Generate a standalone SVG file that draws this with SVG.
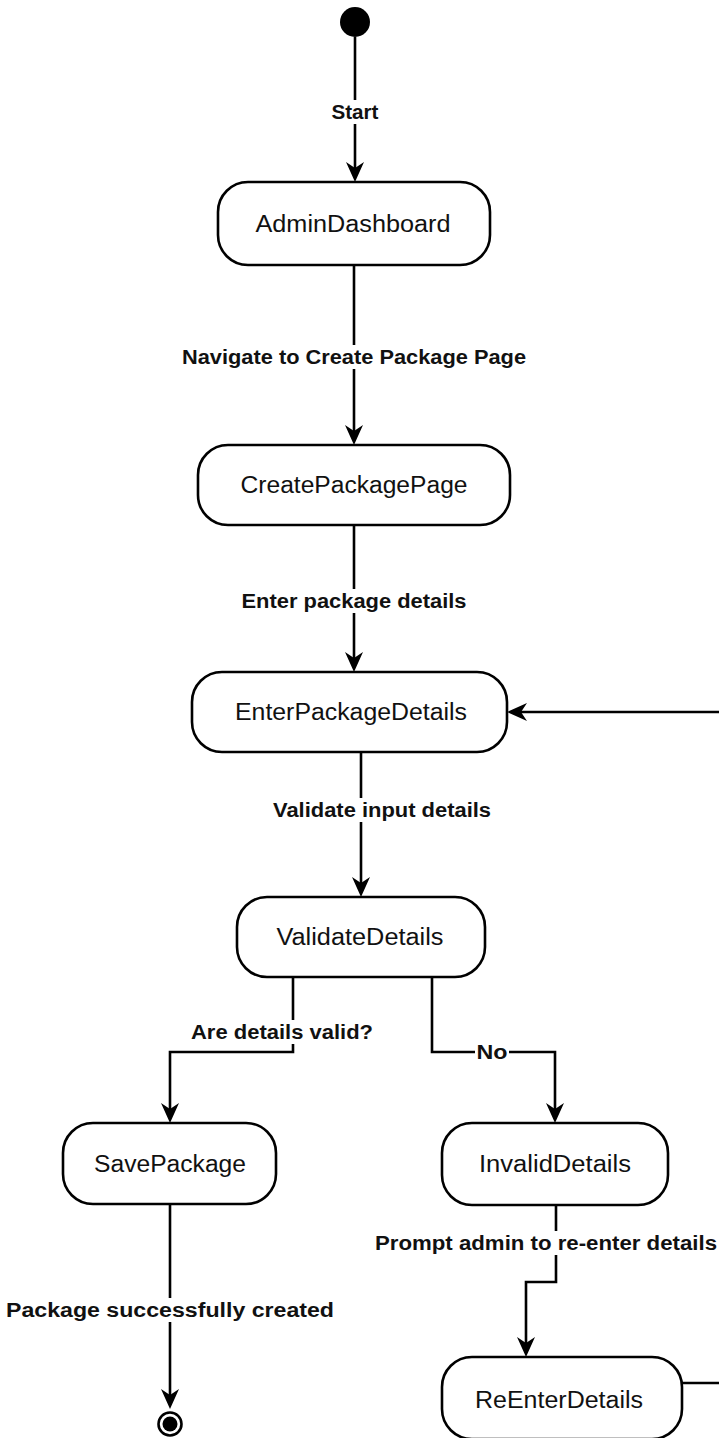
<svg xmlns="http://www.w3.org/2000/svg" width="719" height="1438" viewBox="0 0 719 1438">
  <style>
    .state { fill: #ffffff; stroke: #000000; stroke-width: 2.6; }
    .name { font-family: "Liberation Sans", Arial, sans-serif; font-size: 23px; fill: #111111; text-anchor: middle; }
    .edge { fill: none; stroke: #000000; stroke-width: 2.6; marker-end: url(#arrow); }
    .lbl-bg { fill: #ffffff; }
    .lbl { font-family: "Liberation Sans", Arial, sans-serif; font-size: 20px; font-weight: bold; fill: #111111; text-anchor: middle; }
  </style>
  <defs>
    <marker id="arrow" markerUnits="userSpaceOnUse" viewBox="0 0 20 20" markerWidth="20" markerHeight="20" refX="8" refY="10" orient="auto">
      <path d="M0,1 L20,10 L0,19 L6,10 Z" fill="#000000"/>
    </marker>
  </defs>

  <rect x="0" y="0" width="719" height="1438" fill="#ffffff"/>

  <!-- transitions -->
  <g id="connectors">
    <path class="edge" d="M355,37 V170"/>
    <path class="edge" d="M354,265 V433"/>
    <path class="edge" d="M354,525 V660"/>
    <path class="edge" d="M361,752 V885"/>
    <path class="edge" d="M293,977 V1052 H170 V1111"/>
    <path class="edge" d="M432,977 V1052 H555 V1111"/>
    <path class="edge" d="M556,1205 V1282 H526 V1345"/>
    <path class="edge" d="M682,1383 H730 V712 H519"/>
    <path class="edge" d="M170,1204 V1397"/>

    <!-- transition labels -->
    <rect class="lbl-bg" x="330" y="100" width="51" height="24"/>
    <text class="lbl" x="355" y="119" textLength="47" lengthAdjust="spacingAndGlyphs">Start</text>

    <rect class="lbl-bg" x="180" y="345" width="348" height="24"/>
    <text class="lbl" x="354" y="364" textLength="344" lengthAdjust="spacingAndGlyphs">Navigate to Create Package Page</text>

    <rect class="lbl-bg" x="240" y="589" width="229" height="24"/>
    <text class="lbl" x="354" y="608" textLength="225" lengthAdjust="spacingAndGlyphs">Enter package details</text>

    <rect class="lbl-bg" x="271" y="798" width="222" height="24"/>
    <text class="lbl" x="382" y="817" textLength="218" lengthAdjust="spacingAndGlyphs">Validate input details</text>

    <rect class="lbl-bg" x="189" y="1020" width="186" height="24"/>
    <text class="lbl" x="282" y="1039" textLength="182" lengthAdjust="spacingAndGlyphs">Are details valid?</text>

    <rect class="lbl-bg" x="475" y="1040" width="34" height="24"/>
    <text class="lbl" x="492" y="1059" textLength="31" lengthAdjust="spacingAndGlyphs">No</text>

    <rect class="lbl-bg" x="373" y="1231" width="346" height="24"/>
    <text class="lbl" x="546" y="1250" textLength="342" lengthAdjust="spacingAndGlyphs">Prompt admin to re-enter details</text>

    <rect class="lbl-bg" x="4" y="1298" width="332" height="24"/>
    <text class="lbl" x="170" y="1317" textLength="328" lengthAdjust="spacingAndGlyphs">Package successfully created</text>
  </g>

  <!-- initial pseudo-state -->
  <g id="start">
    <circle cx="355" cy="22" r="15" fill="#000000"/>
  </g>

  <g id="AdminDashboard">
    <rect class="state" x="218" y="182" width="272" height="83" rx="30" ry="30"/>
    <text class="name" x="353" y="232" textLength="195" lengthAdjust="spacingAndGlyphs">AdminDashboard</text>
  </g>

  <g id="CreatePackagePage">
    <rect class="state" x="198" y="445" width="312" height="80" rx="30" ry="30"/>
    <text class="name" x="354" y="493" textLength="227" lengthAdjust="spacingAndGlyphs">CreatePackagePage</text>
  </g>

  <g id="EnterPackageDetails">
    <rect class="state" x="192" y="672" width="315" height="80" rx="30" ry="30"/>
    <text class="name" x="351" y="720" textLength="232" lengthAdjust="spacingAndGlyphs">EnterPackageDetails</text>
  </g>

  <g id="ValidateDetails">
    <rect class="state" x="237" y="897" width="248" height="80" rx="30" ry="30"/>
    <text class="name" x="360" y="945" textLength="167" lengthAdjust="spacingAndGlyphs">ValidateDetails</text>
  </g>

  <g id="SavePackage">
    <rect class="state" x="63" y="1123" width="213" height="81" rx="30" ry="30"/>
    <text class="name" x="170" y="1172" textLength="152" lengthAdjust="spacingAndGlyphs">SavePackage</text>
  </g>

  <g id="InvalidDetails">
    <rect class="state" x="442" y="1123" width="226" height="82" rx="30" ry="30"/>
    <text class="name" x="555" y="1172" textLength="152" lengthAdjust="spacingAndGlyphs">InvalidDetails</text>
  </g>

  <g id="ReEnterDetails">
    <rect class="state" x="442" y="1357" width="240" height="82" rx="30" ry="30"/>
    <text class="name" x="559" y="1408" textLength="168" lengthAdjust="spacingAndGlyphs">ReEnterDetails</text>
  </g>

  <!-- final state -->
  <g id="end">
    <circle cx="170" cy="1424" r="11.5" fill="#ffffff" stroke="#000000" stroke-width="2.6"/>
    <circle cx="170" cy="1424" r="7.5" fill="#000000"/>
  </g>
</svg>
